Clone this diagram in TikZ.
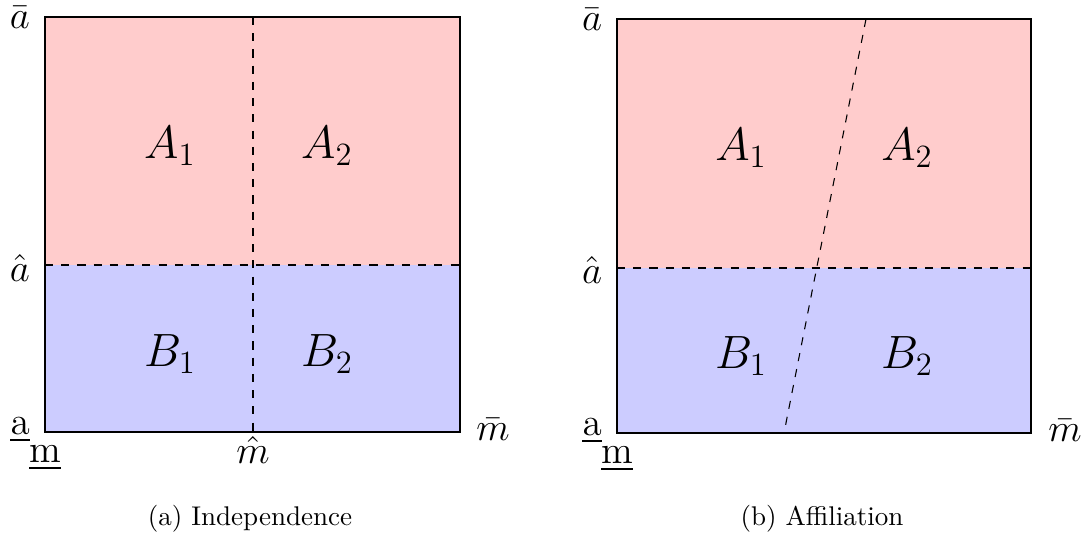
\documentclass[tikz,border=0pt]{standalone}
\usepackage{amsmath,amssymb}
\usepackage{tikz}
\usetikzlibrary{positioning,calc}

\begin{document}
\begin{tikzpicture}[
  x=0.013cm,y=-0.013cm,
  high/.style={fill=red!20},
  low/.style={fill=blue!20},
  cut/.style={dashed},
  edgelab/.style={font=\Large,inner sep=0pt},
  arealab/.style={font=\LARGE,inner sep=0pt},
  subcap/.style={font=\normalsize,inner sep=0pt}
]
\useasboundingbox (0,0) rectangle (1089,544);

% (a) independence
\coordinate (Lsw) at (45,432);
\coordinate (Lne) at (460,17);
\coordinate (Lwm) at (45,265);
\coordinate (Lem) at (460,265);
\coordinate (Ln) at (253,17);
\coordinate (Ls) at (253,432);

\fill[high] (45,17) rectangle (Lem);
\fill[low] (Lwm) rectangle (460,432);
\draw (Lsw) rectangle (Lne);
\draw[cut] (Lwm) -- (Lem);
\draw[cut] (Ln) -- (Ls);

\node[arealab] (LA1) at (170,146) {$A_1$};
\node[arealab] (LA2) at (327,146) {$A_2$};
\node[arealab] (LB1) at (170,354) {$B_1$};
\node[arealab] (LB2) at (327,354) {$B_2$};

\node[edgelab] (Labar) at (20,17) {$\bar a$};
\node[edgelab] (Lahat) at (20,268) {$\hat a$};
\node[edgelab] (Launder) at (20,430) {$\underline{\mathrm{a}}$};
\node[edgelab] (Lmunder) at (45,458) {$\underline{\mathrm{m}}$};
\node[edgelab] (Lmhat) at (253,450) {$\hat m$};
\node[edgelab] (Lmbar) at (493,429) {$\bar m$};

\node[subcap] (Lcap) at (250,519) {(a) Independence};

% (b) affiliation
\coordinate (Rsw) at (617,433);
\coordinate (Rne) at (1031,19);
\coordinate (Rwm) at (617,268);
\coordinate (Rem) at (1031,268);
\coordinate (Rn) at (866,19);
\coordinate (Rs) at (784,433);

\fill[high] (617,19) rectangle (Rem);
\fill[low] (Rwm) rectangle (1031,433);
\draw (Rsw) rectangle (Rne);
\draw[cut] (Rwm) -- (Rem);
\draw[cut] (Rn) -- (Rs);

\node[arealab] (RA1) at (741,148) {$A_1$};
\node[arealab] (RA2) at (907,148) {$A_2$};
\node[arealab] (RB1) at (741,356) {$B_1$};
\node[arealab] (RB2) at (907,356) {$B_2$};

\node[edgelab] (Rabar) at (592,19) {$\bar a$};
\node[edgelab] (Rahat) at (592,270) {$\hat a$};
\node[edgelab] (Raunder) at (592,431) {$\underline{\mathrm{a}}$};
\node[edgelab] (Rmunder) at (617,459) {$\underline{\mathrm{m}}$};
\node[edgelab] (Rmbar) at (1065,430) {$\bar m$};

\node[subcap] (Rcap) at (822,519) {(b) Affiliation};
\end{tikzpicture}
\end{document}
